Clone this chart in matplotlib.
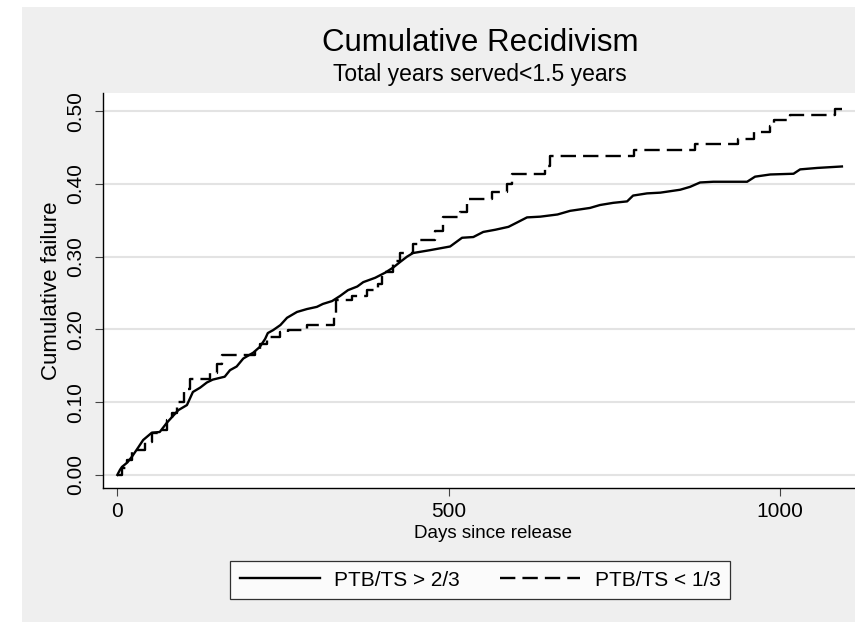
import matplotlib.pyplot as plt
from matplotlib.patches import Rectangle

plt.rcParams['font.family'] = ['Liberation Sans', 'DejaVu Sans']

# Solid curve: PTB/TS > 2/3 (days since release, cumulative failure)
days_hi = [0, 4, 7, 15, 22, 31, 39, 52, 64, 75, 83, 92, 105, 114, 125, 135, 144,
           162, 170, 180, 190, 205, 215, 223, 227, 235, 246, 256, 271, 286, 301,
           310, 324, 336, 348, 362, 371, 389, 404, 416, 427, 437, 446, 472, 502,
           520, 537, 552, 570, 590, 603, 618, 638, 664, 683, 698, 713, 728, 748,
           769, 778, 799, 819, 849, 864, 879, 899, 950, 962, 985, 1020, 1030,
           1056, 1093]
fail_hi = [0.000, 0.007, 0.011, 0.017, 0.025, 0.037, 0.048, 0.058, 0.059, 0.072,
           0.080, 0.089, 0.096, 0.114, 0.120, 0.127, 0.131, 0.135, 0.144, 0.149,
           0.160, 0.168, 0.176, 0.187, 0.195, 0.199, 0.206, 0.216, 0.224, 0.228,
           0.231, 0.235, 0.239, 0.246, 0.254, 0.259, 0.265, 0.271, 0.278, 0.285,
           0.293, 0.300, 0.305, 0.309, 0.314, 0.326, 0.327, 0.334, 0.337, 0.341,
           0.347, 0.354, 0.355, 0.358, 0.363, 0.365, 0.367, 0.371, 0.374, 0.376,
           0.384, 0.387, 0.388, 0.392, 0.396, 0.402, 0.403, 0.403, 0.410, 0.413,
           0.414, 0.420, 0.422, 0.424]

# Dashed curve: PTB/TS < 1/3
days_lo = [0, 7, 15, 22, 42, 52, 64, 75, 83, 90, 101, 110, 140, 150, 158, 208,
           215, 226, 246, 258, 286, 327, 330, 354, 377, 393, 400, 416, 427, 446,
           454, 479, 492, 517, 528, 565, 588, 596, 645, 653, 780, 872, 937, 960,
           985, 990, 1015, 1083, 1093]
fail_lo = [0.000, 0.010, 0.020, 0.034, 0.045, 0.058, 0.062, 0.075, 0.085, 0.100,
           0.118, 0.132, 0.140, 0.152, 0.165, 0.172, 0.180, 0.190, 0.196, 0.199,
           0.206, 0.222, 0.240, 0.246, 0.254, 0.262, 0.279, 0.294, 0.305, 0.318,
           0.323, 0.335, 0.354, 0.362, 0.379, 0.389, 0.400, 0.413, 0.425, 0.438,
           0.447, 0.455, 0.462, 0.472, 0.480, 0.488, 0.495, 0.503, 0.503]

y_ticks = [0.0, 0.1, 0.2, 0.3, 0.4, 0.5]
x_ticks = [0, 500, 1000]
labels = ['PTB/TS > 2/3', 'PTB/TS < 1/3']

W, H = 855, 622
bg = '#efefef'
fig = plt.figure(figsize=(W / 100, H / 100), dpi=100, facecolor=bg)
# thin white strips on top and left (screenshot margin)
fig.patches.append(Rectangle((0, 0), 22 / W, 1, transform=fig.transFigure,
                             facecolor='white', edgecolor='none', zorder=-10))
fig.patches.append(Rectangle((0, 1 - 7 / H), 1, 7 / H, transform=fig.transFigure,
                             facecolor='white', edgecolor='none', zorder=-10))

# plot region runs past the right edge of the picture (cropped screenshot)
ax = fig.add_axes([103 / W, 1 - 488 / H, 782 / W, 395 / H])
ax.set_facecolor('white')

ax.plot(days_hi, fail_hi, color='black', lw=1.7, label=labels[0])
ax.plot(days_lo, fail_lo, drawstyle='steps-post', color='black', lw=1.7,
        linestyle=(0, (6.5, 3)), label=labels[1])

ax.set_xlim(-21.6, 1158)
ax.set_ylim(-0.018, 0.525)
ax.set_yticks(y_ticks)
ax.set_yticklabels([f'{v:.2f}' for v in y_ticks], rotation=90, va='center')
ax.set_xticks(x_ticks)
ax.grid(axis='y', color='#e3e3e3', lw=1.5)
ax.set_axisbelow(True)

for s in ['top', 'right']:
    ax.spines[s].set_visible(False)
for s in ['left', 'bottom']:
    ax.spines[s].set_color('black')
    ax.spines[s].set_linewidth(1.0)

ax.tick_params(axis='both', labelsize=15, length=6, width=0.8, color='#444444')
ax.tick_params(axis='y', pad=7)
ax.tick_params(axis='x', pad=4)

ax.set_ylabel('Cumulative failure', fontsize=16, labelpad=3)
fig.text(493 / W, 1 - 533 / H, 'Days since release', fontsize=13.5,
         ha='center', va='center')

fig.text(480 / W, 1 - 43 / H, 'Cumulative Recidivism', fontsize=22.5,
         ha='center', va='center')
fig.text(480 / W, 1 - 75 / H, 'Total years served<1.5 years', fontsize=16.5,
         ha='center', va='center')

leg = fig.legend(loc='center', bbox_to_anchor=(480 / W, 1 - 580 / H), ncol=2,
                 fontsize=15, frameon=True, fancybox=False, handlelength=3.85,
                 handletextpad=0.7, columnspacing=1.9, borderpad=0.45)
leg.get_frame().set_edgecolor('black')
leg.get_frame().set_linewidth(0.9)

fig.savefig('out.png', dpi=100, facecolor=fig.get_facecolor())
